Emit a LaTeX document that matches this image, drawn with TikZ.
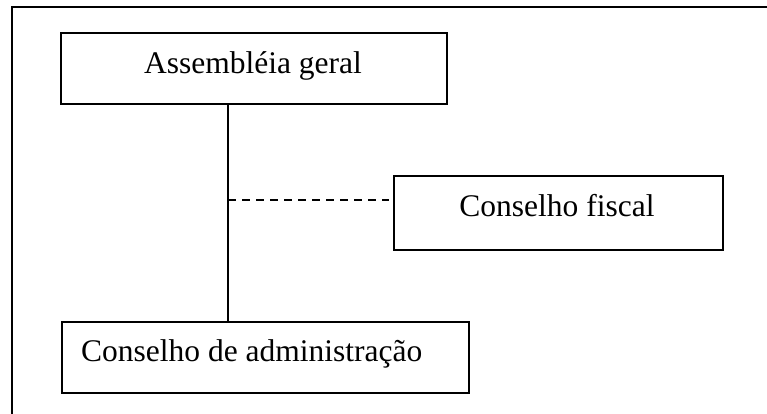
\documentclass[tikz,border=0pt]{standalone}
\usepackage{fontspec}
\setmainfont{Liberation Serif}
\begin{document}
\begin{tikzpicture}[x=1pt,y=-1pt,
  box/.style={draw=black, line width=2pt, rectangle, inner sep=0pt, anchor=north west},
  lbl/.style={inner sep=0pt, font=\fontsize{31.5}{36}\selectfont},
  conn/.style={draw=black, line width=1.6pt}]
\useasboundingbox (0,0) rectangle (767,414);
\draw[line width=2pt] (12,414) -- (12,7.5) -- (767,7.5);
\node[box, minimum width=386pt, minimum height=71pt] (ag) at (60,32) {};
\node[lbl, anchor=base] (agt) at (253,74) {Assembléia geral};
\node[box, minimum width=329pt, minimum height=74pt] (fc) at (393,175) {};
\node[lbl, anchor=base] (fct) at (557,216) {Conselho fiscal};
\node[box, minimum width=407pt, minimum height=71pt] (ad) at (60.5,320.7) {};
\node[lbl, anchor=base west] (adt) at (81,361) {Conselho de administração};
\coordinate (j) at (228,200);
\draw[conn] (ag.south -| j) -- (ad.north -| j);
\draw[conn, line width=1.4pt, dash pattern=on 7.5pt off 6.5pt, shorten >=4pt] (j) -- (fc.west |- j);
\end{tikzpicture}
\end{document}
